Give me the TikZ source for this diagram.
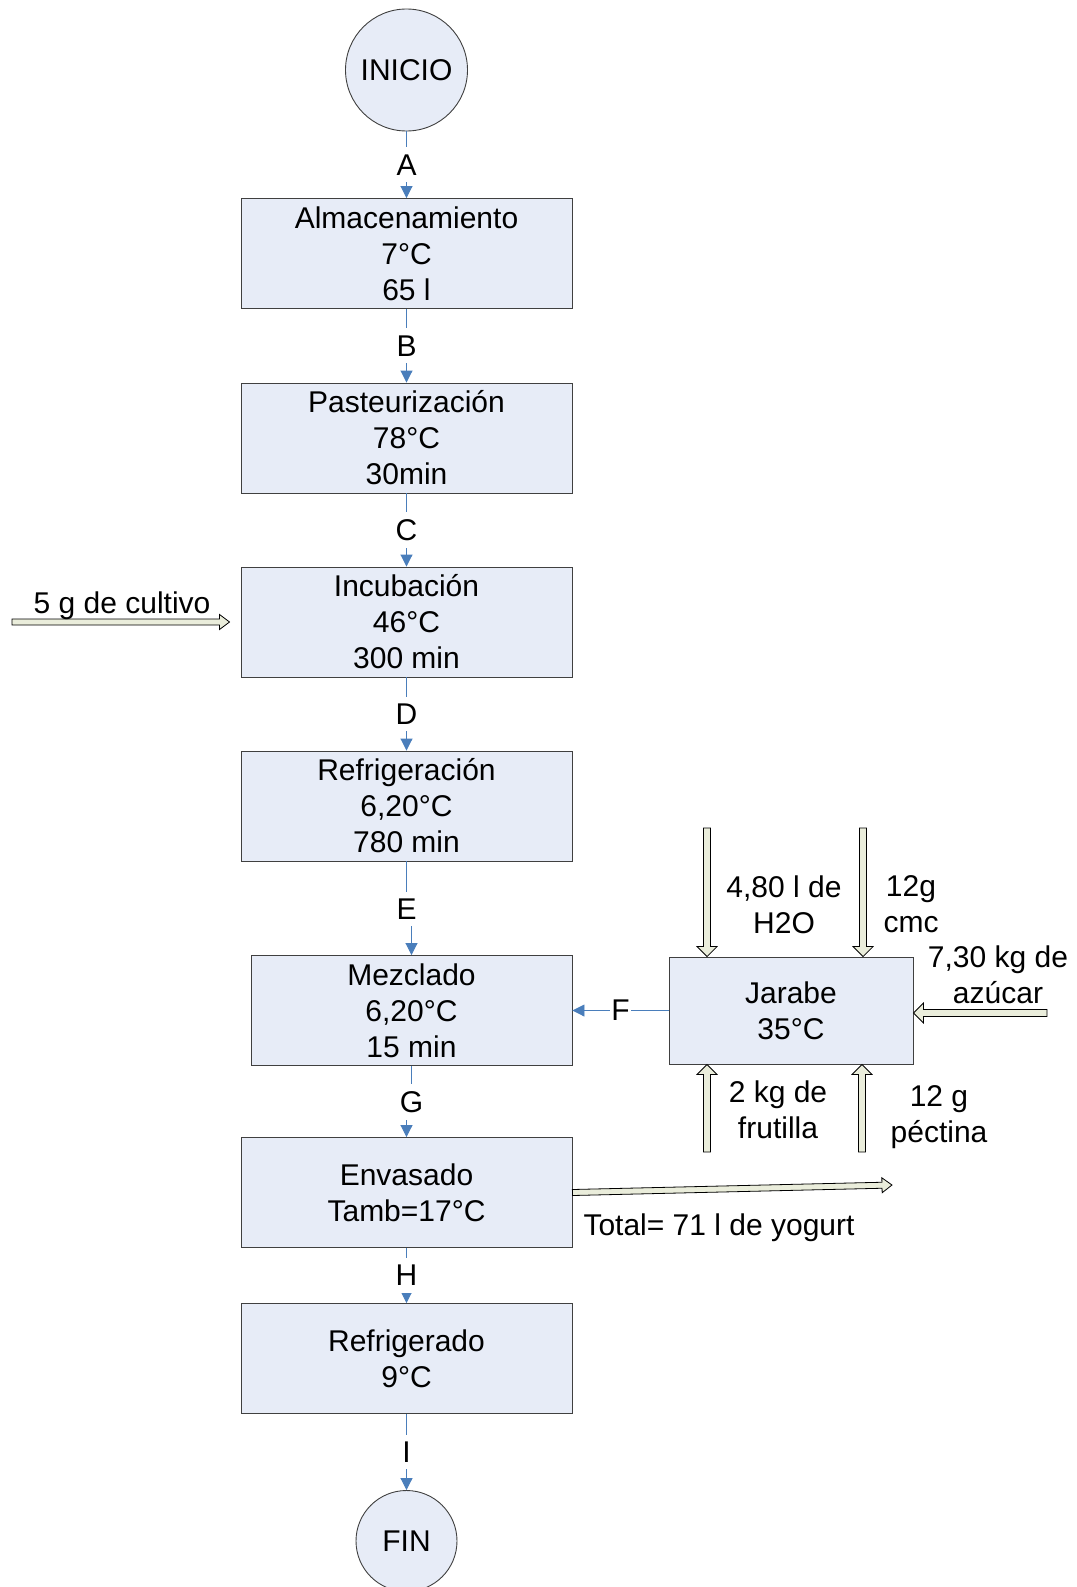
\documentclass[tikz,border=0pt]{standalone}
\usepackage{fontspec}
\setmainfont{Liberation Sans}
\usetikzlibrary{arrows.meta,calc}
\definecolor{boxfill}{RGB}{231,236,247}
\definecolor{boxline}{RGB}{64,64,64}
\definecolor{connblue}{RGB}{74,126,187}
\definecolor{arrfill}{RGB}{234,237,219}
\newcommand\blockarrow[5]{%
  \path[draw=black,fill=arrfill,line width=0.8pt] let \p1=(#1), \p2=(#2),
    \n1={atan2(\y2-\y1,\x2-\x1)}, \n2={veclen(\x2-\x1,\y2-\y1)} in
    {[shift={(\p1)}, rotate=\n1]
      (0,-#3) -- (\n2-#5,-#3) -- (\n2-#5,-#4) -- (\n2,0) -- (\n2-#5,#4) -- (\n2-#5,#3) -- (0,#3) -- cycle};
}
\begin{document}
\begin{tikzpicture}[x=1pt,y=-1pt,
  every node/.style={font=\fontsize{30}{36}\selectfont},
  procbox/.style={draw=boxline,fill=boxfill,line width=0.9pt,rectangle,inner sep=0pt,align=center,minimum width=331pt,minimum height=110pt},
  termcirc/.style={draw=boxline,fill=boxfill,line width=0.9pt,circle,inner sep=0pt},
  conn/.style={draw=connblue,line width=0.9pt,-{Triangle[width=12pt,length=12pt]}},
  lbl/.style={fill=white,inner xsep=3pt,inner ysep=7pt},
  txt/.style={anchor=base,inner sep=0pt,align=center}]
\useasboundingbox (0,0) rectangle (1076,1587);

\node[termcirc,minimum size=122pt] (inicio) at (406.5,70) {INICIO};
\node[procbox] (alm) at (406.5,253.5) {Almacenamiento\\7°C\\65 l};
\node[procbox] (pas) at (406.5,438) {Pasteurización\\78°C\\30min};
\node[procbox] (inc) at (406.5,622) {Incubación\\46°C\\300 min};
\node[procbox] (ref) at (406.5,806) {Refrigeración\\6,20°C\\780 min};
\node[procbox,minimum width=321pt] (mez) at (411.5,1010.5) {Mezclado\\6,20°C\\15 min};
\node[procbox] (env) at (406.5,1192.5) {Envasado\\Tamb=17°C};
\node[procbox] (refr) at (406.5,1358.5) {Refrigerado\\9°C};
\node[termcirc,minimum size=101pt] (fin) at (406.5,1541) {FIN};
\node[procbox,minimum width=244pt,minimum height=107pt] (jar) at (791,1010.5) {Jarabe\\35°C};

% blue connectors
\draw[conn] (inicio) -- node[lbl]{A} (alm);
\draw[conn] (alm) -- node[lbl]{B} (pas);
\draw[conn] (pas) -- node[lbl]{C} (inc);
\draw[conn] (inc) -- node[lbl]{D} (ref);
\coordinate (eJ) at (406.5,909);
\draw[conn] (ref.south) -- (eJ) -| (mez.north);
\node[lbl] (lblE) at (eJ) {E};
\coordinate (gJ) at (411.5,1102);
\draw[conn] (mez.south) -- (gJ) -| (env.north);
\node[lbl] (lblG) at (gJ) {G};
\draw[conn] (env) -- node[lbl]{H} (refr);
\draw[conn] (refr) -- node[lbl]{I} (fin);
\draw[conn] (jar.west) -- node[lbl,inner ysep=2pt,inner xsep=1pt]{F} (mez.east);

% block arrows
\coordinate (cult) at (12,622);
\blockarrow{cult}{[xshift=-11pt]inc.west}{3}{7.5}{10}
\node[txt] (tcult) at (122,613) {5 g de cultivo};

\coordinate (h2o) at (707,828);
\blockarrow{h2o}{h2o |- jar.north}{3.5}{10}{10}
\node[txt] (th2o) at (784,933) {4,80 l de\\H2O};

\coordinate (cmc) at (863,828);
\blockarrow{cmc}{cmc |- jar.north}{3.5}{10}{10}
\node[txt] (tcmc) at (911,932) {12g\\cmc};

\coordinate (azu) at (1047,1013);
\blockarrow{azu}{azu -| jar.east}{3.5}{10}{10}
\node[txt] (tazu) at (998,1003) {7,30 kg de\\azúcar};

\coordinate (frut) at (707,1152);
\blockarrow{frut}{frut |- jar.south}{3.5}{10}{10}
\node[txt] (tfrut) at (778,1138) {2 kg de\\frutilla};

\coordinate (pect) at (862,1152);
\blockarrow{pect}{pect |- jar.south}{3.5}{10}{10}
\node[txt] (tpect) at (939,1142) {12 g\\péctina};

\coordinate (tot) at (892,1185);
\blockarrow{env.east}{tot}{3}{7.5}{10}
\node[txt] (ttot) at (719,1235) {Total= 71 l de yogurt};
\end{tikzpicture}
\end{document}
